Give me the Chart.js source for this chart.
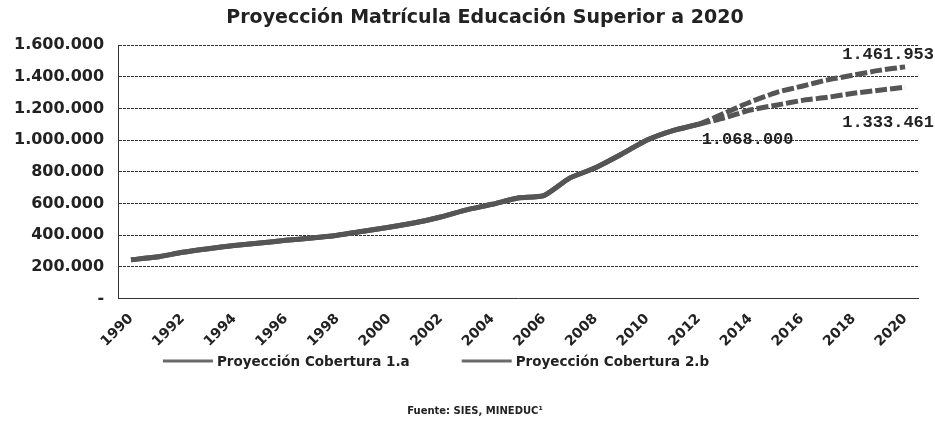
<!DOCTYPE html>
<html>
<head>
<meta charset="utf-8">
<script src="https://cdn.jsdelivr.net/npm/chart.js@4"></script>
<style>
  html, body { margin: 0; padding: 0; background: #fff; }
  #wrap { width: 935px; height: 447px; }
</style>
</head>
<body>
<div id="wrap"><canvas id="chart"></canvas></div>
<script>
// --- DATA ---
const years = [];
for (let y = 1990; y <= 2020; y++) years.push(String(y));

// shared history 1990-2012, then two projections
const cobertura1a = [
  245000, 262000, 292000, 315000, 335000, 350000, 368000, 382000, 400000, 425000,
  450000, 478000, 515000, 560000, 595000, 635000, 650000, 760000, 825000, 910000,
  1000000, 1060000, 1100000,
  1170000, 1240000, 1300000, 1340000, 1380000, 1410000, 1440000, 1461953
];
const cobertura2b = [
  245000, 262000, 292000, 315000, 335000, 350000, 368000, 382000, 400000, 425000,
  450000, 478000, 515000, 560000, 595000, 635000, 650000, 760000, 825000, 910000,
  1000000, 1060000, 1100000,
  1140000, 1190000, 1220000, 1250000, 1270000, 1295000, 1315000, 1333461
];
const yTicks = [0, 200000, 400000, 600000, 800000, 1000000, 1200000, 1400000, 1600000];

// value labels drawn on the chart: [text, year index, y value, align]
const notes = [
  ['1.461.953', 30, 1537000, 'right'],
  ['1.333.461', 30, 1107000, 'right'],
  ['1.068.000', 22, 1000000, 'left']
];

const titleText = 'Proyección Matrícula Educación Superior a 2020';
const sourceText = 'Fuente: SIES, MINEDUC¹';

const splitIndex = 22; // projections start after 2012
const lineColor = '#555';
const fontFam = '"DejaVu Sans", Verdana, sans-serif';
const fmt = v => v === 0 ? '-' : String(v).replace(/\B(?=(\d{3})+(?!\d))/g, '.');

const notesPlugin = {
  id: 'notes',
  afterDatasetsDraw(chart) {
    const { ctx, scales: { x, y }, width } = chart;
    ctx.save();
    ctx.font = 'bold 17px "Liberation Mono", monospace';
    ctx.fillStyle = '#222';
    ctx.textBaseline = 'middle';
    notes.forEach(([text, idx, val, align]) => {
      const py = y.getPixelForValue(val);
      if (align === 'right') {
        ctx.textAlign = 'right';
        ctx.fillText(text, width - 1, py);
      } else {
        ctx.textAlign = 'left';
        ctx.fillText(text, x.getPixelForValue(idx) + 3, py);
      }
    });
    ctx.restore();
  }
};

// title, legend and source line sit a bit off-centre in the original
const textsPlugin = {
  id: 'texts',
  afterDraw(chart) {
    const { ctx } = chart;
    ctx.save();
    ctx.fillStyle = '#222';
    ctx.textBaseline = 'middle';

    ctx.font = 'bold 19px ' + fontFam;
    ctx.textAlign = 'center';
    ctx.fillText(titleText, 485, 18);

    // legend
    ctx.font = 'bold 13.5px ' + fontFam;
    const sw = 50, gap = 4, between = 52;
    const items = chart.data.datasets.map(ds => ({ label: ds.label, w: ctx.measureText(ds.label).width }));
    const total = items.reduce((s, it) => s + sw + gap + it.w, 0) + between * (items.length - 1);
    let lx = 436 - total / 2;
    const ly = 361;
    ctx.textAlign = 'left';
    items.forEach(it => {
      ctx.fillStyle = '#6a6a6a';
      ctx.fillRect(lx, ly - 1.5, sw, 3);
      ctx.fillStyle = '#222';
      ctx.fillText(it.label, lx + sw + gap, ly + 1);
      lx += sw + gap + it.w + between;
    });

    ctx.font = 'bold 10px ' + fontFam;
    ctx.textAlign = 'center';
    ctx.fillText(sourceText, 475, 411);
    ctx.restore();
  }
};

const dashAfterSplit = ctx => ctx.p0DataIndex >= splitIndex ? [12, 3] : undefined;

new Chart(document.getElementById('chart'), {
  type: 'line',
  data: {
    labels: years,
    datasets: [
      {
        label: 'Proyección Cobertura 1.a',
        data: cobertura1a,
        borderColor: lineColor,
        borderWidth: 5,
        pointRadius: 0,
        tension: 0.2,
        segment: { borderDash: dashAfterSplit }
      },
      {
        label: 'Proyección Cobertura 2.b',
        data: cobertura2b,
        borderColor: lineColor,
        borderWidth: 5,
        pointRadius: 0,
        tension: 0.2,
        segment: { borderDash: dashAfterSplit }
      }
    ]
  },
  options: {
    responsive: true,
    maintainAspectRatio: false,
    animation: false,
    layout: { padding: { left: 0, right: 17, top: 45, bottom: 93 } },
    plugins: {
      title: { display: false },
      legend: { display: false },
      tooltip: { enabled: false }
    },
    scales: {
      x: {
        offset: true,
        grid: { display: false },
        border: { display: true, color: '#333', width: 1 },
        ticks: {
          autoSkip: false,
          maxRotation: 45,
          minRotation: 45,
          color: '#222',
          padding: 4,
          font: { family: fontFam, size: 14, weight: 'bold' },
          callback(value, index) { return index % 2 === 0 ? years[index] : ''; }
        }
      },
      y: {
        min: yTicks[0],
        max: yTicks[yTicks.length - 1],
        afterBuildTicks(axis) { axis.ticks = yTicks.map(v => ({ value: v })); },
        grid: { color: '#333', lineWidth: 1, drawTicks: false },
        border: { display: true, color: '#333', width: 1, dash: [3, 1] },
        ticks: {
          color: '#222',
          padding: 14,
          font: { family: fontFam, size: 16, weight: 'bold' },
          callback: v => fmt(v)
        }
      }
    }
  },
  plugins: [notesPlugin, textsPlugin]
});
</script>
</body>
</html>
